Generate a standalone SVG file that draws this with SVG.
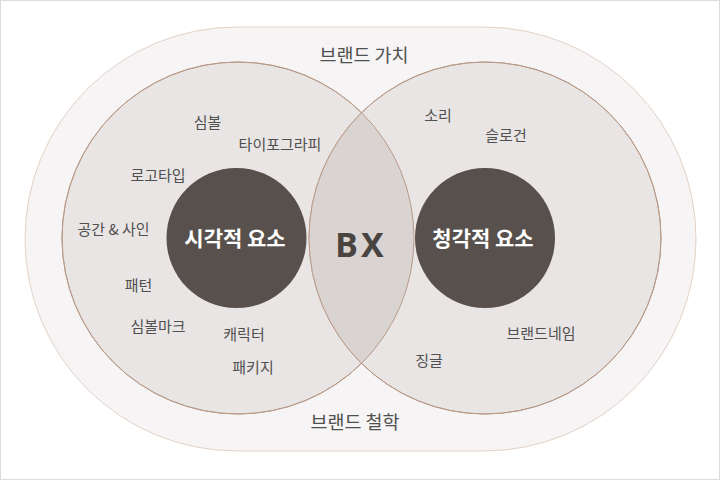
<svg xmlns="http://www.w3.org/2000/svg" width="720" height="480" viewBox="0 0 720 480">
  <style>
    .t { font-family: "Noto Sans CJK KR", "Noto Sans", sans-serif; fill: #505050; text-anchor: middle; }
    .s { font-size: 15px; }
    .m { font-size: 18.5px; }
    .b { font-size: 21px; font-weight: 700; fill: #ffffff; }
    .bx { font-family: "Noto Sans", "Noto Sans CJK KR", sans-serif; font-size: 34px; font-weight: 700; fill: #4a4441; text-anchor: middle; letter-spacing: 3px; }
    .big { fill: #e9e5e4; stroke: #b89a88; stroke-width: 1; }
    .core { fill: #57504c; }
  </style>
  <defs>
    <clipPath id="clipL"><circle cx="238" cy="238" r="176"/></clipPath>
  </defs>
  <rect x="0.5" y="0.5" width="719" height="479" fill="#ffffff" stroke="#dddddd"/>
  <g id="brand-frame">
    <rect x="25" y="27" width="671" height="424" rx="212" ry="212" fill="#f6f4f4" stroke="#e2d2c7" stroke-width="1"/>
    <text class="t m" x="364" y="62">브랜드 가치</text>
    <text class="t m" x="355" y="429">브랜드 철학</text>
  </g>
  <g id="visual">
    <circle class="big" cx="238" cy="238" r="176"/>
  </g>
  <g id="auditory">
    <circle class="big" cx="485" cy="238" r="176"/>
  </g>
  <g id="bx">
    <circle cx="485" cy="238" r="176" fill="#d9d3d2" clip-path="url(#clipL)"/>
    <circle cx="238" cy="238" r="176" fill="none" stroke="#b89a88" stroke-width="1"/>
    <circle cx="485" cy="238" r="176" fill="none" stroke="#b89a88" stroke-width="1"/>
    <text class="bx" x="361" y="257">BX</text>
  </g>
  <g id="visual-core">
    <circle class="core" cx="236.5" cy="238" r="70"/>
    <text class="t b" x="235" y="246">시각적 요소</text>
  </g>
  <g id="auditory-core">
    <circle class="core" cx="485" cy="238" r="70"/>
    <text class="t b" x="483" y="246">청각적 요소</text>
  </g>
  <g id="visual-items">
    <text class="t s" x="207.5" y="128">심볼</text>
    <text class="t s" x="280" y="150">타이포그라피</text>
    <text class="t s" x="158" y="181">로고타입</text>
    <text class="t s" x="113.5" y="235">공간 &amp; 사인</text>
    <text class="t s" x="138.5" y="291">패턴</text>
    <text class="t s" x="158" y="332">심볼마크</text>
    <text class="t s" x="244" y="340">캐릭터</text>
    <text class="t s" x="253" y="373">패키지</text>
  </g>
  <g id="auditory-items">
    <text class="t s" x="438" y="121">소리</text>
    <text class="t s" x="506" y="141">슬로건</text>
    <text class="t s" x="541" y="339">브랜드네임</text>
    <text class="t s" x="429" y="366">징글</text>
  </g>
</svg>
